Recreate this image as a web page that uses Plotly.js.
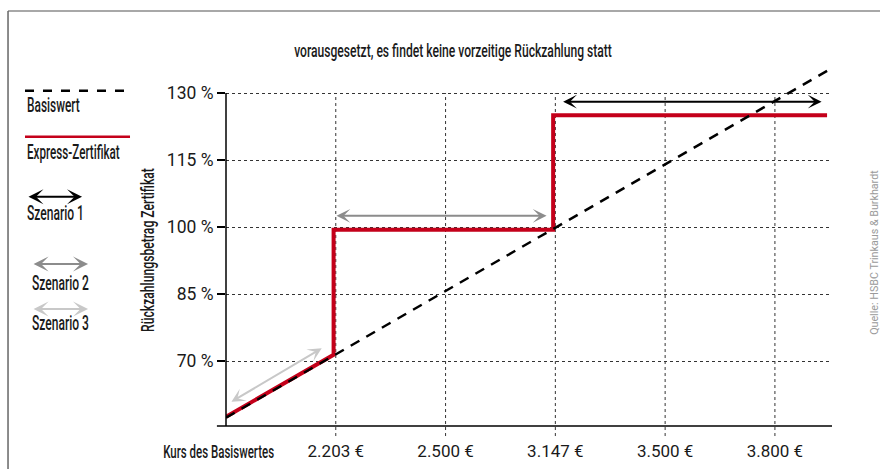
<!DOCTYPE html>
<html>
<head>
<meta charset="utf-8">
<script src="https://cdn.plot.ly/plotly-3.0.1.min.js"></script>
<style>html,body{margin:0;padding:0;background:#fff;}#chart{width:880px;height:469px;}</style>
</head>
<body>
<div id="chart"></div>
<script>
// ---- data (schematic positions on a category-like price axis) ----
const xTickPos = [1, 2, 3, 4, 5];
const xTickLabels = ['2.203 €', '2.500 €', '3.147 €', '3.500 €', '3.800 €'];
const yTickVals = [70, 85, 100, 115, 130];
const yTickLabels = ['70 %', '85 %', '100 %', '115 %', '130 %'];

const basisX = [0, 5.52];
const basisY = [57.3, 135.6];

const zertX = [0, 0.98, 0.98, 2.98, 2.98, 5.475];
const zertY = [57.5, 71.4, 99.4, 99.4, 125, 125];

// scenarios: [x0, y0, x1, y1]
const szenario1 = [3.057, 128.05, 5.425, 128.05];
const szenario2 = [0.993, 102.5, 2.92, 102.5];
const szenario3 = [0.036, 60.67, 0.872, 72.84];

const xRange = [0, 5.52];
const yRange = [55.45, 135.6];

const FONT = 'Roboto, "Noto Sans", sans-serif';
const TXT = '#1a1a1a';
const RED = '#c4001a';
const GRAY2 = '#8c8c8c';
const GRAY3 = '#c8c8c8';

function yPaper(v) { return (v - yRange[0]) / (yRange[1] - yRange[0]); }

const traces = [
  { x: zertX, y: zertY, mode: 'lines', line: { color: RED, width: 4 }, hoverinfo: 'skip', showlegend: false },
  { x: basisX, y: basisY, mode: 'lines', line: { color: '#000', width: 2.5, dash: '10px,8px' }, hoverinfo: 'skip', showlegend: false }
];

const shapes = [];
xTickPos.forEach(p => {
  shapes.push({ type: 'line', xref: 'x', yref: 'paper', x0: p, x1: p, y0: -0.028, y1: yPaper(130),
    line: { color: '#333', width: 1, dash: 'dot' }, layer: 'below' });
});
shapes.push({ type: 'line', xref: 'paper', yref: 'paper', x0: 0, x1: 0, y0: 0, y1: yPaper(130), line: { color: '#000', width: 1.5 } });
shapes.push({ type: 'line', xref: 'paper', yref: 'paper', x0: -0.015, x1: 1, y0: 0, y1: 0, line: { color: '#000', width: 1.5 } });
shapes.push({ type: 'line', xref: 'paper', yref: 'paper', x0: -0.3597, x1: 1.08, y0: 1.1592, y1: 1.1592, line: { color: '#a8a8a8', width: 2 } });
shapes.push({ type: 'line', xref: 'paper', yref: 'paper', x0: -0.3597, x1: -0.3597, y0: 1.1592, y1: -0.13, line: { color: '#666', width: 1.5 } });
shapes.push({ type: 'line', xref: 'paper', yref: 'paper', x0: -0.3317, x1: -0.1584, y0: 0.9366, y1: 0.9366, line: { color: '#000', width: 2.5, dash: '9px,9px' } });
shapes.push({ type: 'line', xref: 'paper', yref: 'paper', x0: -0.3317, x1: -0.1584, y0: 0.8081, y1: 0.8081, line: { color: RED, width: 2.5 } });

function arrow(s, color, size) {
  return { x: s[2], y: s[3], ax: s[0], ay: s[1], xref: 'x', yref: 'y', axref: 'x', ayref: 'y',
    text: '', showarrow: true, arrowside: 'end+start', arrowhead: 3, startarrowhead: 3,
    arrowsize: size, startarrowsize: size, arrowwidth: 2, arrowcolor: color, standoff: 0, startstandoff: 0 };
}
function legArrow(x0, x1, y, color) {
  return { x: x1, y: y, ax: -(x1 - x0) * 606, ay: 0, xref: 'paper', yref: 'paper', axref: 'pixel', ayref: 'pixel',
    text: '', showarrow: true, arrowside: 'end+start', arrowhead: 3, startarrowhead: 3,
    arrowsize: 1.25, startarrowsize: 1.25, arrowwidth: 2, arrowcolor: color, standoff: 0, startstandoff: 0 };
}
function txt(t, x, y, opts) {
  return Object.assign({ text: t, x: x, y: y, xref: 'paper', yref: 'paper', showarrow: false,
    xanchor: 'left', yanchor: 'middle', font: { family: FONT, size: 20, weight: 500, color: TXT } }, opts || {});
}

const annotations = [
  arrow(szenario1, '#000', 1.15),
  arrow(szenario2, GRAY2, 1.15),
  arrow(szenario3, GRAY3, 1.15),
  legArrow(-0.3284, -0.2376, 0.6405, '#000'),
  legArrow(-0.320, -0.2277, 0.4525, GRAY2),
  legArrow(-0.320, -0.2277, 0.3268, GRAY3),
  txt('Basiswert', -0.3317, 0.8966),
  txt('Express-Zertifikat', -0.3317, 0.7662),
  txt('Szenario 1', -0.3317, 0.595),
  txt('Szenario 2', -0.3234, 0.3994),
  txt('Szenario 3', -0.3234, 0.2877),
  txt('Rückzahlungsbetrag Zertifikat', -0.1304, 0.4916, { xanchor: 'center', textangle: -90, font: { family: FONT, size: 19, weight: 500, color: TXT } }),
  txt('Kurs des Basiswertes', -0.0132, -0.0726, { xanchor: 'center', font: { family: FONT, size: 19, weight: 500, color: TXT } }),
  txt('Quelle: HSBC Trinkaus & Burkhardt', 1.0693, 0.486, { xanchor: 'center', textangle: -90, font: { family: FONT, size: 11, color: '#9a9a9a' } })
];
// target widths in px of the condensed lettering
const squeezeWidth = {
  'Basiswert': 53, 'Express-Zertifikat': 93, 'Szenario 1': 57, 'Szenario 2': 57, 'Szenario 3': 57,
  'Rückzahlungsbetrag Zertifikat': 164, 'Kurs des Basiswertes': 111, 'Quelle: HSBC Trinkaus & Burkhardt': 165
};

const layout = {
  width: 880, height: 469,
  margin: { l: 226, r: 48, t: 68, b: 43 },
  paper_bgcolor: '#fff', plot_bgcolor: 'rgba(0,0,0,0)',
  showlegend: false,
  font: { family: FONT, color: TXT },
  title: { text: 'vorausgesetzt, es findet keine vorzeitige Rückzahlung statt', x: 0.5148, xref: 'container',
    y: 1 - 51 / 469, yref: 'container', xanchor: 'center', yanchor: 'middle', font: { family: FONT, size: 18, weight: 500, color: TXT } },
  xaxis: { range: xRange, tickvals: xTickPos, ticktext: xTickLabels, showgrid: false, zeroline: false, showline: false,
    ticks: 'outside', ticklen: 10, tickcolor: 'rgba(0,0,0,0)', tickfont: { family: FONT, size: 17, color: TXT }, fixedrange: true },
  yaxis: { range: yRange, tickvals: yTickVals, ticktext: yTickLabels, showgrid: true, griddash: 'dot', gridcolor: '#333', gridwidth: 1,
    zeroline: false, showline: false, ticks: 'outside', ticklen: 8, tickwidth: 1.5, tickcolor: '#000',
    tickfont: { family: FONT, size: 17.5, color: TXT }, fixedrange: true },
  shapes: shapes,
  annotations: annotations
};

// compress a text horizontally (condensed look) around its anchor edge
function squeeze(el, target, anchor) {
  const b = el.getBBox();
  const r = target / b.width;
  const cx = anchor === 'left' ? b.x : (anchor === 'right' ? b.x + b.width : b.x + b.width / 2);
  const tr = el.getAttribute('transform') || '';
  el.setAttribute('transform', tr + ' translate(' + cx.toFixed(2) + ',0) scale(' + r.toFixed(4) + ',1) translate(' + (-cx).toFixed(2) + ',0)');
  return b.width - target;
}

Plotly.newPlot('chart', traces, layout, { displayModeBar: false, staticPlot: true }).then(gd => {
  gd.querySelectorAll('.annotation').forEach(g => {
    const idx = +g.getAttribute('data-index');
    const a = layout.annotations[idx];
    if (!a || !a.text) return;
    const t = g.querySelector('text.annotation-text');
    if (!t) return;
    const shrink = squeeze(t, squeezeWidth[a.text] || t.getBBox().width, a.xanchor);
    g.querySelectorAll('rect').forEach(rect => {
      const x = +rect.getAttribute('x') || 0;
      const w = +rect.getAttribute('width') || 0;
      let nx = x;
      if (a.xanchor === 'center') nx = x + shrink / 2;
      rect.setAttribute('width', Math.max(0, w - shrink).toFixed(2));
      rect.setAttribute('x', nx.toFixed(2));
    });
  });
  const title = gd.querySelector('.gtitle');
  if (title) squeeze(title, 318, 'center');
});
</script>
</body>
</html>
